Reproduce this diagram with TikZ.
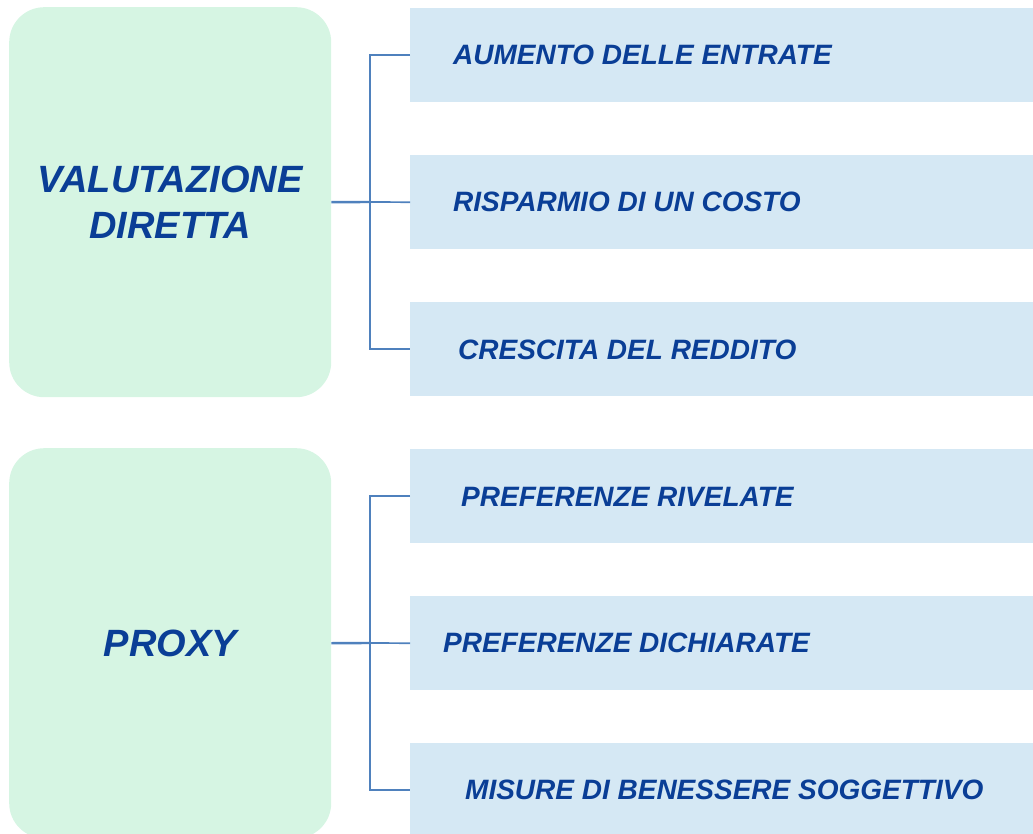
\documentclass[tikz,border=0pt]{standalone}
\usepackage{fontspec}
\setmainfont{Liberation Sans}
\definecolor{lgreen}{RGB}{214,245,227}
\definecolor{lblue}{RGB}{213,232,244}
\definecolor{lineblue}{RGB}{79,129,189}
\definecolor{txtblue}{RGB}{10,62,150}
\begin{document}
\begin{tikzpicture}[x=1pt,y=-1pt,
  lbox/.style={fill=lgreen,draw=none,rounded corners=35pt,minimum width=322pt,anchor=north west,inner sep=0pt},
  rbox/.style={fill=lblue,draw=none,minimum width=640pt,minimum height=94pt,anchor=north west,inner sep=0pt},
  rtext/.style={anchor=west,text=txtblue,font=\fontsize{28}{32}\selectfont\bfseries\itshape,inner sep=0pt},
  ltext/.style={align=center,text=txtblue,font=\fontsize{38}{46}\selectfont\bfseries\itshape,inner sep=0pt},
  conn/.style={draw=lineblue,line width=1.7pt},
  stub/.style={draw=lineblue,line width=2.4pt}]
\useasboundingbox (0,0) rectangle (1033,834);
\clip (0,0) rectangle (1033,834);
% left boxes
\node[lbox,minimum height=390pt] (L1) at (9,7) {};
\node[lbox,minimum height=390pt] (L2) at (9,448) {};
\node[ltext] (LT1) at (L1.center) {VALUTAZIONE\\DIRETTA};
\node[ltext] (LT2) at (L2.center) {PROXY};
% right boxes
\node[rbox] (r1) at (410,8) {};
\node[rbox] (r2) at (410,155) {};
\node[rbox] (r3) at (410,302) {};
\node[rbox] (r4) at (410,449) {};
\node[rbox] (r5) at (410,596) {};
\node[rbox] (r6) at (410,743) {};
% texts
\node[rtext] (t1) at (453,55) {AUMENTO DELLE ENTRATE};
\node[rtext] (t2) at (453,202) {RISPARMIO DI UN COSTO};
\node[rtext] (t3) at (458,350) {CRESCITA DEL REDDITO};
\node[rtext] (t4) at (461,497) {PREFERENZE RIVELATE};
\node[rtext] (t5) at (443,643) {PREFERENZE DICHIARATE};
\node[rtext] (t6) at (465,790) {MISURE DI BENESSERE SOGGETTIVO};
% connectors
\coordinate (j1) at (370,202);
\coordinate (j2) at (370,643);
\draw[conn] (r1.west) -| (j1) |- (r3.west);
\draw[conn] (j1) -- (r2.west);
\draw[stub] (L1.east) -- (j1);
\draw[conn] (r4.west) -| (j2) |- (r6.west);
\draw[conn] (j2) -- (r5.west);
\draw[stub] (L2.east) -- (j2);
\end{tikzpicture}
\end{document}
